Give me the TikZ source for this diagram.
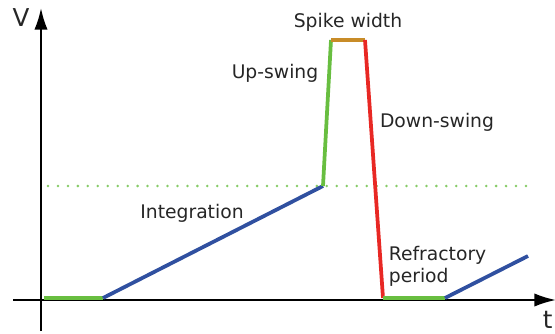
\documentclass[tikz,border=0pt]{standalone}
\usepackage{fontspec}
\setmainfont{DejaVu Sans}
\usetikzlibrary{arrows.meta}
\definecolor{spgreen}{RGB}{104,190,64}
\definecolor{spblue}{RGB}{48,80,160}
\definecolor{spred}{RGB}{232,40,36}
\definecolor{sporange}{RGB}{200,140,40}
\tikzset{
  lbl/.style={font=\fontsize{16}{19}\selectfont,text=black!85,inner sep=0pt},
  axlbl/.style={font=\fontsize{21}{24}\selectfont,text=black!85,inner sep=0pt},
  axis/.style={line width=1.8pt,-{Latex[length=6.5mm,width=4mm]}}
}
\begin{document}
\begin{tikzpicture}[x=0.03cm,y=-0.03cm,line width=3.2pt]
\useasboundingbox (0,0) rectangle (555,333);
% axes
\draw[axis] (13,300) -- (556,300);
\draw[axis] (41,331) -- (41,8);
\node[lbl,axlbl] (v) at (21,18) {V};
\node[lbl,axlbl,anchor=east] (t) at (554.5,320) {t};
% threshold
\draw[spgreen!80,line width=2.4pt,dash pattern=on 0pt off 8.5pt,line cap=round] (48,186) -- (529,186);
% membrane potential
\coordinate (rest) at (44,298);
\coordinate (start) at (103,298);
\coordinate (thr) at (323,186);
\coordinate (top1) at (331,40);
\coordinate (top2) at (365,40);
\coordinate (bot) at (383,298);
\coordinate (ref) at (445,298);
\coordinate (last) at (528,256);
\draw[spgreen] (rest) -- (start);
\draw[spblue] (start) -- (thr);
\draw[spgreen] (thr) -- (top1);
\draw[sporange] (top1) -- (top2);
\draw[spred] (top2) -- (bot);
\draw[spgreen] (bot) -- (ref);
\draw[spblue] (ref) -- (last);
% labels
\node[lbl] (sw) at (348,22) {Spike width};
\node[lbl] (up) at (275,73) {Up-swing};
\node[lbl] (down) at (437,122) {Down-swing};
\node[lbl] (int) at (192,213) {Integration};
\node[lbl,anchor=north west,align=left] (refr) at (387,244) {Refractory\\period};
\end{tikzpicture}
\end{document}
